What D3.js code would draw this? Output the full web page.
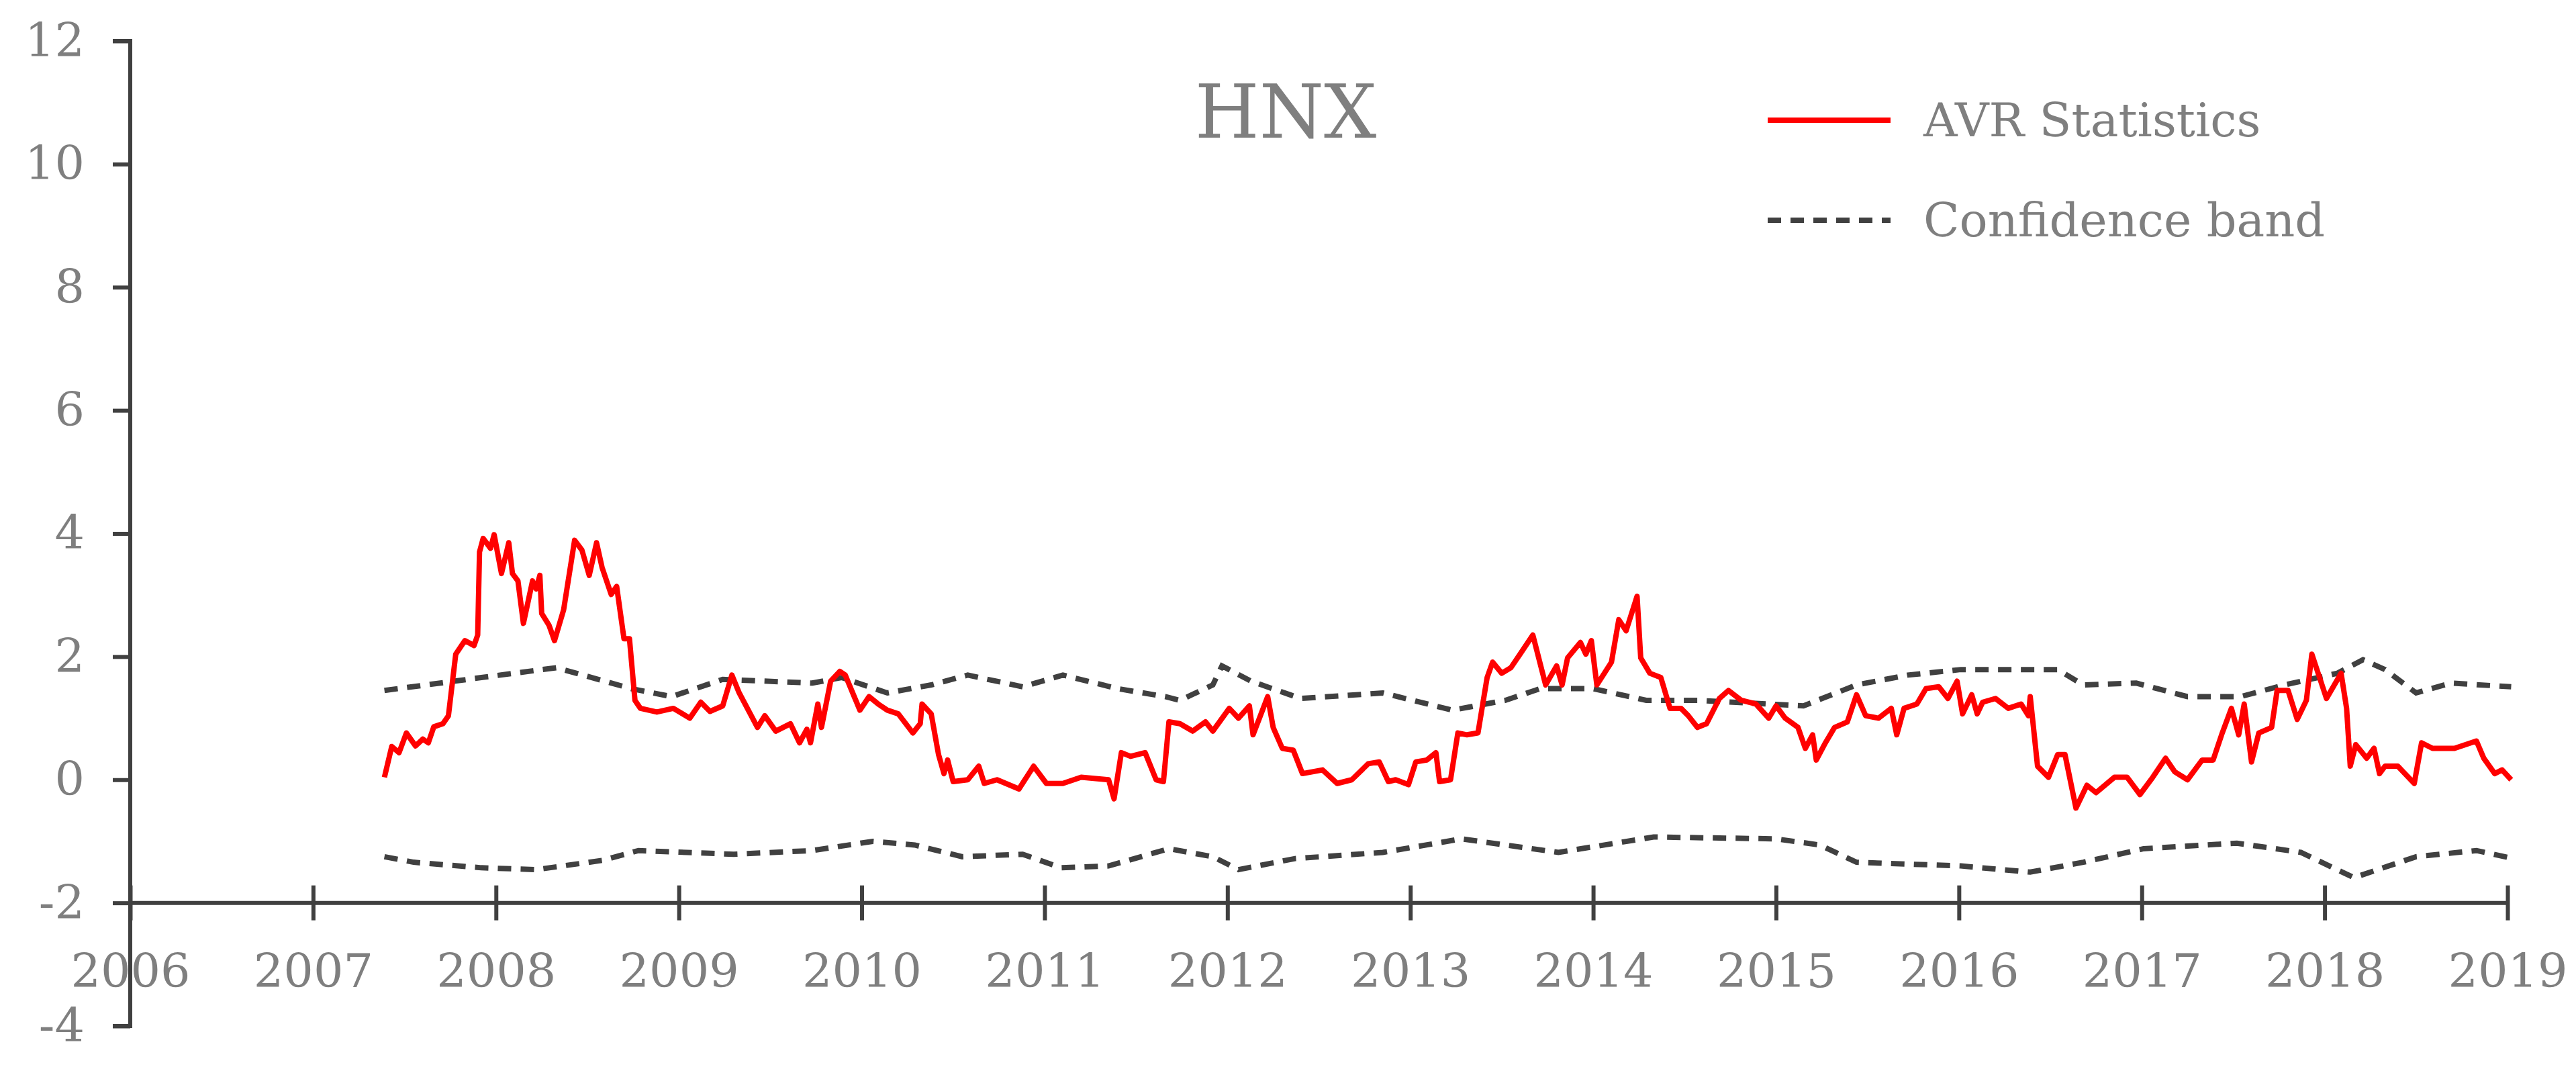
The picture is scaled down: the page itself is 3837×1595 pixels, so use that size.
<!DOCTYPE html>
<html>
<head>
<meta charset="utf-8">
<script src="https://cdn.jsdelivr.net/npm/d3@7"></script>
<style>
  body { margin: 0; background: #fff; }
  text { font-family: "DejaVu Serif", serif; fill: #7f7f7f; }
</style>
</head>
<body>
<svg id="chart" width="3837" height="1595"></svg>
<script>
// AVR statistic, [decimal year, value]
var avrYears = [2007.39,2007.43,2007.47,2007.51,2007.56,2007.60,2007.63,2007.66,2007.71,2007.74,2007.78,2007.83,2007.88,2007.90,2007.91,2007.93,2007.97,2007.99,2008.03,2008.07,2008.09,2008.12,2008.15,2008.20,2008.22,2008.24,2008.25,2008.29,2008.32,2008.37,2008.43,2008.47,2008.51,2008.55,2008.58,2008.63,2008.66,2008.70,2008.73,2008.76,2008.79,2008.88,2008.97,2009.06,2009.12,2009.17,2009.24,2009.29,2009.33,2009.43,2009.47,2009.53,2009.61,2009.66,2009.70,2009.72,2009.76,2009.78,2009.83,2009.88,2009.91,2009.99,2010.04,2010.09,2010.14,2010.20,2010.28,2010.32,2010.33,2010.38,2010.42,2010.45,2010.47,2010.50,2010.58,2010.64,2010.67,2010.74,2010.86,2010.94,2011.01,2011.10,2011.20,2011.35,2011.38,2011.42,2011.47,2011.55,2011.61,2011.65,2011.68,2011.74,2011.81,2011.88,
  2011.92,2012.01,2012.06,2012.12,2012.14,2012.22,2012.25,2012.30,2012.36,2012.41,2012.52,2012.60,2012.68,2012.77,2012.83,2012.88,2012.92,2012.99,2013.03,2013.09,2013.14,2013.16,2013.22,2013.26,2013.31,2013.37,2013.42,2013.45,2013.50,2013.55,2013.60,2013.67,2013.74,2013.80,2013.83,2013.86,2013.93,2013.96,2013.99,2014.02,2014.10,2014.14,2014.18,2014.24,2014.26,2014.31,2014.37,2014.42,2014.48,2014.52,2014.57,2014.62,2014.69,2014.74,2014.81,2014.89,2014.96,2015.00,2015.05,2015.12,2015.16,2015.20,2015.22,2015.27,2015.32,2015.39,2015.44,2015.49,2015.56,2015.63,2015.66,2015.70,2015.77,2015.82,2015.89,2015.94,2015.99,2016.02,2016.07,2016.10,2016.13,2016.20,2016.27,2016.34,2016.38,2016.39,2016.43,2016.49,2016.54,2016.58,2016.64,2016.70,2016.75,2016.85,2016.92,2016.99,2017.06,2017.13,2017.18,2017.25,2017.33,2017.39,2017.44,2017.49,2017.53,2017.56,2017.60,2017.64,2017.71,2017.74,2017.80,2017.85,2017.90,2017.93,2018.01,2018.09,2018.12,2018.14,2018.17,2018.23,2018.27,2018.30,2018.33,2018.40,2018.49,2018.53,2018.59,2018.71,2018.83,2018.87,2018.93,2018.97,2019.02];
var avrValues = [0.04,0.54,0.44,0.76,0.55,0.66,0.60,0.86,0.91,1.04,2.04,2.26,2.18,2.35,3.70,3.92,3.76,3.98,3.35,3.85,3.35,3.23,2.54,3.23,3.10,3.32,2.70,2.51,2.26,2.76,3.89,3.73,3.32,3.85,3.45,3.01,3.14,2.29,2.29,1.29,1.16,1.10,1.16,1.00,1.26,1.11,1.20,1.70,1.41,0.85,1.04,0.79,0.91,0.60,0.82,0.60,1.23,0.85,1.60,1.76,1.70,1.13,1.35,1.23,1.13,1.07,0.76,0.91,1.23,1.07,0.41,0.10,0.32,-0.03,0.00,0.22,-0.06,0.00,-0.15,0.22,-0.06,-0.06,0.04,0.00,-0.31,0.44,0.38,0.44,0.00,-0.03,0.94,0.91,0.79,0.94,
  0.79,1.16,1.00,1.20,0.73,1.35,0.85,0.51,0.48,0.10,0.16,-0.06,0.00,0.26,0.29,-0.03,0.00,-0.08,0.29,0.32,0.44,-0.03,0.00,0.76,0.73,0.76,1.66,1.91,1.73,1.82,2.04,2.35,1.54,1.85,1.54,1.98,2.23,2.04,2.26,1.54,1.91,2.60,2.42,2.98,1.98,1.73,1.66,1.16,1.16,1.04,0.85,0.91,1.32,1.45,1.29,1.23,1.00,1.20,1.00,0.85,0.51,0.73,0.32,0.60,0.85,0.94,1.38,1.04,1.00,1.16,0.73,1.16,1.23,1.48,1.51,1.32,1.60,1.07,1.38,1.07,1.26,1.32,1.16,1.23,1.04,1.35,0.22,0.04,0.41,0.41,-0.46,-0.09,-0.21,0.04,0.04,-0.24,0.04,0.35,0.13,0.00,0.32,0.32,0.76,1.16,0.73,1.23,0.29,0.76,0.85,1.45,1.45,0.98,1.29,2.04,1.32,1.73,1.16,0.22,0.57,0.35,0.51,0.10,0.22,0.22,-0.06,0.60,0.51,0.51,0.63,0.35,0.10,0.16,0.00];

// confidence band
var upperYears = [2007.39,2007.92,2008.33,2008.74,2008.96,2009.24,2009.73,2009.89,2010.14,2010.38,2010.58,2010.88,2011.10,2011.40,2011.66,2011.74,2011.92,2011.97,2012.13,2012.40,2012.85,2013.23,2013.52,2013.71,2014.00,2014.29,2014.57,2014.96,2015.15,2015.44,2015.72,2016.01,2016.54,2016.68,2016.97,2017.25,2017.54,2017.78,2018.07,2018.21,2018.33,2018.50,2018.69,2019.02];
var upperValues = [1.45,1.66,1.82,1.48,1.35,1.63,1.57,1.66,1.41,1.54,1.70,1.51,1.70,1.48,1.35,1.29,1.54,1.85,1.60,1.32,1.41,1.13,1.29,1.48,1.48,1.29,1.29,1.23,1.20,1.54,1.70,1.79,1.79,1.54,1.57,1.35,1.35,1.54,1.73,1.95,1.79,1.41,1.57,1.51];
var lowerYears = [2007.39,2007.55,2007.92,2008.22,2008.58,2008.78,2009.30,2009.73,2010.06,2010.29,2010.55,2010.88,2011.09,2011.35,2011.68,2011.92,2012.06,2012.37,2012.85,2013.28,2013.81,2014.33,2015.00,2015.24,2015.44,2016.01,2016.39,2016.68,2017.01,2017.52,2017.87,2018.16,2018.50,2018.83,2019.00];
var lowerValues = [-1.25,-1.34,-1.43,-1.46,-1.31,-1.15,-1.21,-1.15,-1.00,-1.06,-1.25,-1.21,-1.43,-1.40,-1.12,-1.25,-1.46,-1.28,-1.18,-0.96,-1.18,-0.93,-0.96,-1.06,-1.34,-1.40,-1.50,-1.34,-1.12,-1.03,-1.18,-1.59,-1.25,-1.15,-1.26];

var xTicks = d3.range(2006, 2020);
var yTicks = [-4, -2, 0, 2, 4, 6, 8, 10, 12];

var svg = d3.select("#chart");
var x = d3.scaleLinear().domain([2006, 2019]).range([194, 3735]);
var y = d3.scaleLinear().domain([-4, 12]).range([1528, 61]);
var axisColor = "#404040";

function zip(xs, ys) { return xs.map((d, i) => [d, ys[i]]); }
var line = d3.line().x(d => x(d[0])).y(d => y(d[1]));

// y axis
var yAxis = svg.append("g").attr("transform", "translate(" + x(2006) + ",0)")
  .call(d3.axisLeft(y).tickValues(yTicks).tickSize(26).tickPadding(42).tickFormat(d => String(d)));
// x axis at y = -2
var xAxis = svg.append("g").attr("transform", "translate(0," + y(-2) + ")")
  .call(d3.axisBottom(x).tickValues(xTicks).tickSize(26).tickPadding(50).tickFormat(d => String(d)));
xAxis.selectAll(".tick line").attr("y1", -26);
[yAxis, xAxis].forEach(g => {
  g.select(".domain").attr("stroke", axisColor).attr("stroke-width", 6);
  g.selectAll(".tick line").attr("stroke", axisColor).attr("stroke-width", 6);
  g.selectAll(".tick text").style("font-size", "70px").attr("fill", "#7f7f7f");
});
xAxis.select(".domain").attr("d", "M" + x(2006) + ",0H" + x(2019));
yAxis.select(".domain").attr("d", "M-26," + y(12) + "H0V" + y(-4) + "H-26");

// bands
svg.append("path").datum(zip(upperYears, upperValues))
  .attr("d", line).attr("fill", "none").attr("stroke", "#404040")
  .attr("stroke-width", 8).attr("stroke-dasharray", "20,14");
svg.append("path").datum(zip(lowerYears, lowerValues))
  .attr("d", line).attr("fill", "none").attr("stroke", "#404040")
  .attr("stroke-width", 8).attr("stroke-dasharray", "20,14");

// AVR
svg.append("path").datum(zip(avrYears, avrValues))
  .attr("d", line).attr("fill", "none").attr("stroke", "#ff0000")
  .attr("stroke-width", 8).attr("stroke-linejoin", "round");

// title
svg.append("text").attr("x", 1915).attr("y", 205).attr("text-anchor", "middle")
  .style("font-size", "110px").text("HNX");

// legend
var legend = [
  {label: "AVR Statistics", color: "#ff0000", dash: null, yy: 179},
  {label: "Confidence band", color: "#404040", dash: "20,14", yy: 328}
];
legend.forEach(l => {
  svg.append("line").attr("x1", 2633).attr("x2", 2816).attr("y1", l.yy).attr("y2", l.yy)
    .attr("stroke", l.color).attr("stroke-width", 8).attr("stroke-dasharray", l.dash);
  svg.append("text").attr("x", 2865).attr("y", l.yy + 24).style("font-size", "70px").text(l.label);
});
</script>
</body>
</html>
